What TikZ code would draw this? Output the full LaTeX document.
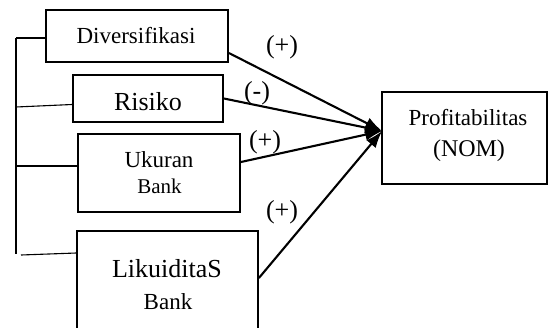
\documentclass[tikz,border=0pt]{standalone}
\usepackage{fontspec}
\setmainfont{Liberation Serif}
\usetikzlibrary{arrows.meta}
\newcommand{\fs}[1]{\fontsize{#1}{#1}\selectfont}
\begin{document}
\begin{tikzpicture}[x=1pt,y=-1pt,
  varbox/.style={draw,line width=1.8pt,rectangle,inner sep=0pt},
  txt/.style={anchor=base,inner sep=0pt},
  link/.style={line width=1.1pt},
  effect/.style={line width=2.1pt,-{Latex[length=17pt,width=12pt]}},
  sign/.style={inner sep=0pt,font=\fs{26}}]
\useasboundingbox (0,0) rectangle (548,327);
\clip (0,0) rectangle (548,327);
% independent variables
\node[varbox,minimum width=182pt,minimum height=52pt] (div) at (137,36) {};
\node[varbox,minimum width=150pt,minimum height=47pt] (ris) at (148,98.5) {};
\node[varbox,minimum width=162pt,minimum height=78pt] (ukr) at (159,173) {};
\node[varbox,minimum width=181pt,minimum height=110pt] (lik) at (167.5,286) {};
\node[txt,font=\fs{23}] (divt) at (136,43) {Diversifikasi};
\node[txt,font=\fs{26}] (rist) at (148,110) {Risiko};
\node[txt,font=\fs{23}] (ukr1) at (159,167) {Ukuran};
\node[txt,font=\fs{21}] (ukr2) at (159.5,193) {Bank};
\node[txt,font=\fs{26}] (lik1) at (167,277) {LikuiditaS};
\node[txt,font=\fs{23}] (lik2) at (168,309) {Bank};
% dependent variable
\node[varbox,minimum width=165pt,minimum height=92pt] (prof) at (464.5,138) {};
\node[txt,font=\fs{23}] (prof1) at (468,125) {Profitabilitas};
\node[txt,font=\fs{24}] (prof2) at (469,156) {(NOM)};
% grouping bracket
\coordinate (bt) at (16,38);
\coordinate (bb) at (16,254);
\draw[link] (bt) -- (bb);
\draw[link] (bt) -- ([yshift=-2pt]div.west);
\draw[link] (16,107) -- ([yshift=-6pt]ris.west);
\draw[link] (16,166) -- ([yshift=7pt]ukr.west);
\draw[link] (21,255) -- ([yshift=33pt]lik.west);
% effects
\coordinate (tip) at ([xshift=1pt,yshift=7pt]prof.west);
\draw[effect] ([yshift=-17pt]div.east) -- (tip);
\draw[effect] (ris.east) -- (tip);
\draw[effect] ([yshift=11pt]ukr.east) -- (tip);
\draw[effect] ([yshift=8pt]lik.east) -- (tip);
% signs
\node[sign] (s1) at (282,47) {(+)};
\node[sign] (s2) at (257,93) {(-)};
\node[sign] (s3) at (265,142) {(+)};
\node[sign] (s4) at (282,212) {(+)};
\end{tikzpicture}
\end{document}
